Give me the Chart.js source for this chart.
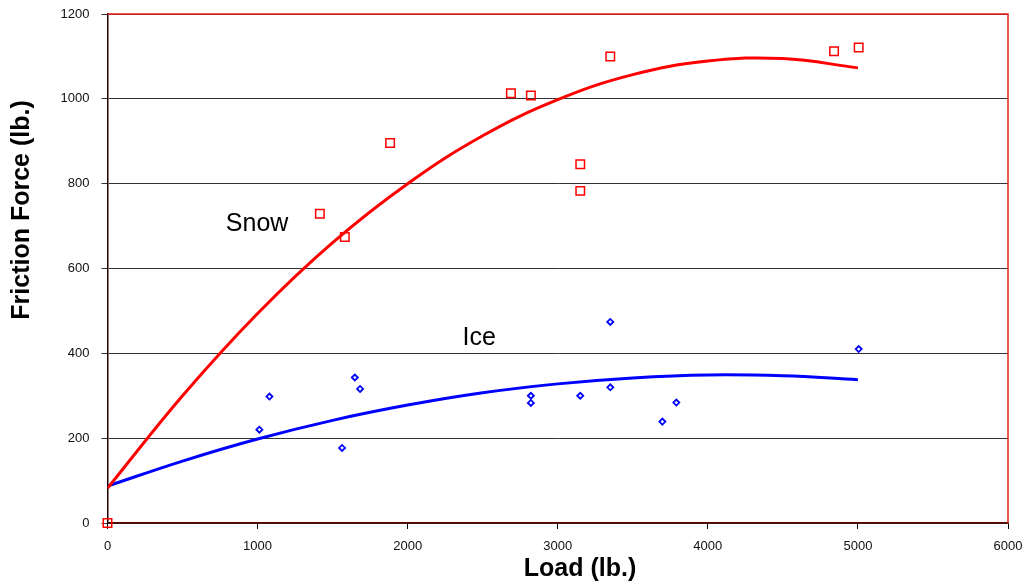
<!DOCTYPE html>
<html>
<head>
<meta charset="utf-8">
<script src="https://cdn.jsdelivr.net/npm/chart.js@4"></script>
<style>
  html, body { margin: 0; padding: 0; background: #fff; }
  #wrap { width: 1029px; height: 588px; }
</style>
</head>
<body>
<div id="wrap"><canvas id="myChart"></canvas></div>
<script>
// measured points (load lb, friction lb)
const snowLoad = [0, 1415, 1581, 1883, 2688, 2821, 3150, 3150, 3350, 4841, 5005]
const snowForce = [0, 729, 674, 896, 1013, 1008, 846, 783, 1100, 1112, 1121]
const iceLoad = [1012, 1079, 1563, 1648, 1683, 2821, 2821, 3150, 3350, 3350, 3697, 3790, 5005]
const iceForce = [220, 298, 177, 343, 316, 300, 283, 300, 474, 320, 239, 284, 410]

// trend curves
const trendLoad = [0, 500, 1000, 1500, 2000, 2500, 3000, 3500, 4000, 4500, 5000]
const snowTrend = [82, 300, 494, 661, 800, 913, 998, 1057, 1089, 1095, 1073]
const iceTrend = [87, 146, 198, 242, 278, 307, 328, 342, 349, 347, 338]

const xTicks = [0, 1000, 2000, 3000, 4000, 5000, 6000]
const yTicks = [0, 200, 400, 600, 800, 1000, 1200]

const labels = [
  { text: 'Snow', x: 997, y: 705 },
  { text: 'Ice', x: 2477, y: 436 }
]

const ctx = document.getElementById('myChart');
const FONT = '"Liberation Sans", Arial, sans-serif'

function pts(xs, ys){
  return xs.map((x, i) => ({ x: x, y: ys[i] }))
}

const textPlugin = {
  id: 'texts',
  afterDraw(chart){
    const c = chart.ctx
    const area = chart.chartArea
    const xs = chart.scales.x
    const ys = chart.scales.y
    c.save()
    // red frame on top and right
    c.strokeStyle = '#e8201c'
    c.lineWidth = 1.5
    c.beginPath()
    c.moveTo(area.left, area.top)
    c.lineTo(area.right, area.top)
    c.lineTo(area.right, area.bottom)
    c.stroke()

    c.fillStyle = '#000'
    c.textAlign = 'center'
    c.textBaseline = 'middle'
    c.font = '25px ' + FONT
    labels.forEach(l => {
      c.fillText(l.text, xs.getPixelForValue(l.x), ys.getPixelForValue(l.y))
    })

    c.font = 'bold 25px ' + FONT
    c.fillText('Load (lb.)', 580, 569)
    c.translate(22, 210)
    c.rotate(-Math.PI / 2)
    c.fillText('Friction Force (lb.)', 0, 0)
    c.restore()
  }
}

new Chart(ctx, {
  type: 'scatter',
  data: {
    datasets: [
      {
        label: 'Snow fit',
        type: 'line',
        data: pts(trendLoad, snowTrend),
        borderColor: '#ff0000',
        borderWidth: 3,
        pointRadius: 0,
        tension: 0.4,
        fill: false,
        order: 1
      },
      {
        label: 'Ice fit',
        type: 'line',
        data: pts(trendLoad, iceTrend),
        borderColor: '#0000ff',
        borderWidth: 3,
        pointRadius: 0,
        tension: 0.4,
        fill: false,
        order: 2
      },
      {
        label: 'Snow',
        data: pts(snowLoad, snowForce),
        pointStyle: 'rect',
        pointRadius: 6,
        pointBorderWidth: 1.5,
        borderColor: '#ff0000',
        backgroundColor: 'rgba(255,255,255,0)',
        clip: false,
        order: 3
      },
      {
        label: 'Ice',
        data: pts(iceLoad, iceForce),
        pointStyle: 'rectRot',
        pointRadius: 3,
        pointBorderWidth: 1.8,
        borderColor: '#0000ff',
        backgroundColor: 'rgba(255,255,255,0)',
        clip: false,
        order: 4
      }
    ]
  },
  options: {
    responsive: true,
    maintainAspectRatio: false,
    animation: false,
    layout: { padding: { top: 14, right: 21, left: 0, bottom: 0 } },
    plugins: {
      legend: { display: false },
      tooltip: { enabled: false }
    },
    scales: {
      x: {
        type: 'linear',
        min: 0,
        max: 6000,
        afterBuildTicks: s => { s.ticks = xTicks.map(v => ({ value: v })) },
        afterFit: s => { s.height = 65; s.paddingLeft = 0; s.paddingRight = 0 },
        ticks: { color: '#111', font: { family: FONT, size: 13 }, padding: 10, callback: v => String(v) },
        grid: { drawOnChartArea: false, drawTicks: true, tickLength: 6, color: '#000' },
        border: { color: '#5a0000', width: 1.5 }
      },
      y: {
        min: 0,
        max: 1200,
        afterBuildTicks: s => { s.ticks = yTicks.map(v => ({ value: v })) },
        afterFit: s => { s.width = 107.5; s.paddingTop = 0; s.paddingBottom = 0 },
        ticks: { color: '#111', font: { family: FONT, size: 13 }, padding: 12, callback: v => String(v) },
        grid: { color: '#333', lineWidth: 1, tickLength: 6 },
        border: { color: '#200000', width: 1.5 }
      }
    }
  },
  plugins: [textPlugin]
});
</script>
</body>
</html>
